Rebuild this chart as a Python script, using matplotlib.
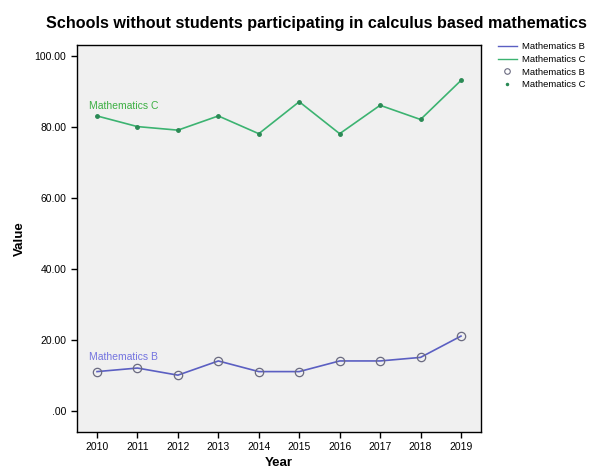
import matplotlib
matplotlib.use("Agg")
import matplotlib.pyplot as plt
from matplotlib.lines import Line2D

years = [2010, 2011, 2012, 2013, 2014, 2015, 2016, 2017, 2018, 2019]
math_b = [11, 12, 10, 14, 11, 11, 14, 14, 15, 21]
math_c = [83, 80, 79, 83, 78, 87, 78, 86, 82, 93]
yticks = [0, 20, 40, 60, 80, 100]
ytick_labels = [".00", "20.00", "40.00", "60.00", "80.00", "100.00"]

plt.rcParams['font.family'] = ['Liberation Sans', 'DejaVu Sans']

fig = plt.figure(figsize=(6, 4.68), dpi=100)
ax = fig.add_axes([0.128, 0.077, 0.674, 0.827])
ax.set_facecolor('#f0f0f0')

b_col = '#5b5fc2'
c_col = '#3cb371'
ax.plot(years, math_b, color=b_col, lw=1.2, zorder=2)
ax.plot(years, math_b, ls='none', marker='o', ms=6, mfc='none', mec='#6a6a80', mew=0.9, zorder=3)
ax.plot(years, math_c, color=c_col, lw=1.2, zorder=2)
ax.plot(years, math_c, ls='none', marker='.', ms=5, color='#2a8a55', zorder=3)

ax.text(2009.8, 15.2, 'Mathematics B', color='#7474e0', fontsize=7.5, va='center', ha='left')
ax.text(2009.8, 85.9, 'Mathematics C', color='#3cb043', fontsize=7.5, va='center', ha='left')

ax.set_xlim(2009.5, 2019.5)
ax.set_ylim(-6, 103)
ax.set_xticks(years)
ax.set_xticklabels([str(y) for y in years], fontsize=7.5)
ax.set_yticks(yticks)
ax.set_yticklabels(ytick_labels, fontsize=7.5)
ax.tick_params(direction='out', length=4, width=1)
for s in ax.spines.values():
    s.set_linewidth(1.0)

ax.set_xlabel('Year', fontsize=9.5, fontweight='bold', labelpad=3)
ax.set_ylabel('Value', fontsize=9.5, fontweight='bold', labelpad=6)
fig.text(0.528, 0.950, 'Schools without students participating in calculus based mathematics',
         ha='center', va='center', fontsize=11.6, fontweight='bold')

handles = [
    Line2D([], [], color=b_col, lw=1),
    Line2D([], [], color=c_col, lw=1),
    Line2D([], [], ls='none', marker='o', ms=4, mfc='none', mec='#6a6a80', mew=0.8),
    Line2D([], [], ls='none', marker='.', ms=3, color='#2a8a55'),
]
labels = ['Mathematics B', 'Mathematics C', 'Mathematics B', 'Mathematics C']
fig.legend(handles, labels, loc='upper left', bbox_to_anchor=(0.822, 0.92),
           frameon=False, fontsize=6.8, handlelength=2.0, handletextpad=0.5,
           labelspacing=0.4, borderpad=0)

fig.savefig('out.png', dpi=100)
